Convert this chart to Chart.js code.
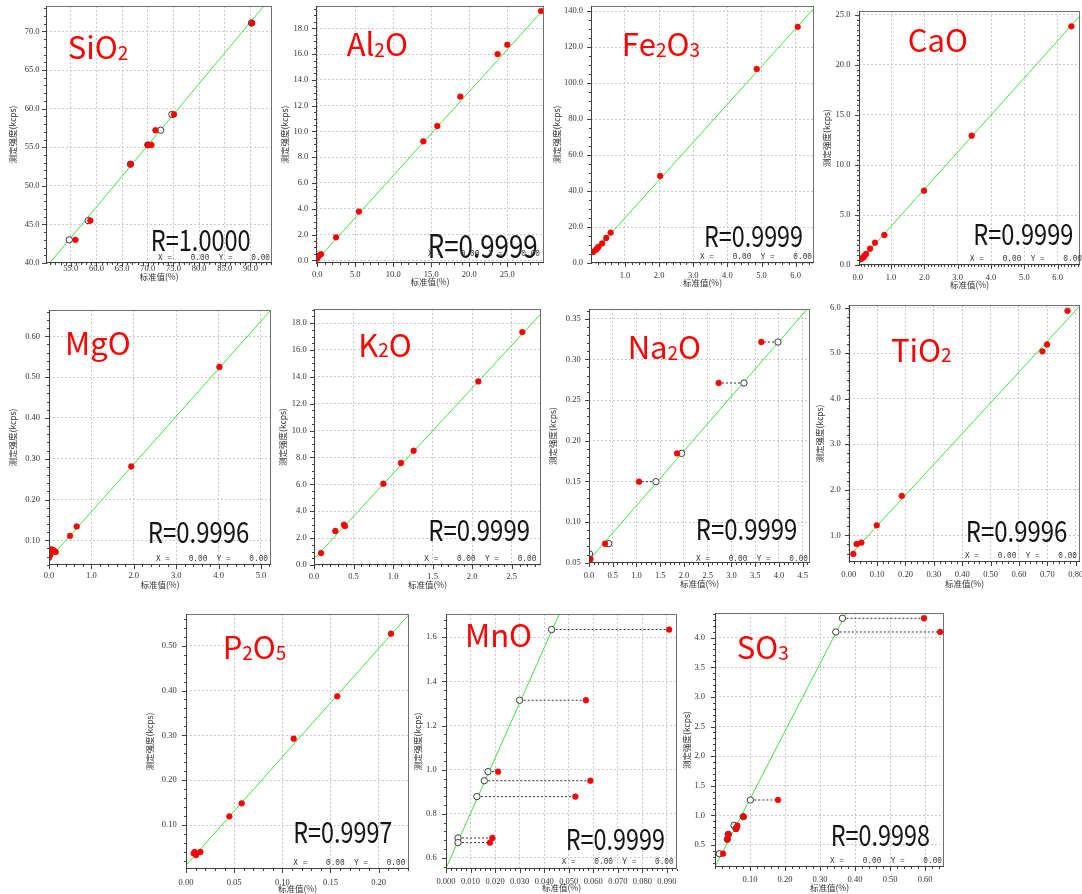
<!DOCTYPE html>
<html><head><meta charset="utf-8">
<script src="https://cdn.jsdelivr.net/npm/chart.js@4.4.0/dist/chart.umd.min.js"></script>
<style>
html,body{margin:0;padding:0;background:#fff;}
body{width:1082px;height:894px;position:relative;overflow:hidden;}
canvas{position:absolute;}
</style></head><body>
<script>
// ---------------- DATA ----------------
const xTitle = '标准值(%)';
const yTitle = '测定强度(kcps)';
const xyText = 'X =    0.00  Y =    0.00';

// SiO2
const sio2XTicks = ["55.0","60.0","65.0","70.0","75.0","80.0","85.0","90.0"];
const sio2YTicks = ["40.0","45.0","50.0","55.0","60.0","65.0","70.0"];
const sio2Std  = [[54.7,43.0],[58.4,45.5],[66.6,52.8],[70.0,55.3],[72.5,57.2],[74.7,59.25],[90.2,71.1]];
const sio2Meas = [[55.9,43.0],[58.8,45.5],[66.7,52.8],[70.0,55.3],[70.7,55.3],[71.5,57.2],[75.1,59.25],[90.3,71.1]];
const sio2Fit  = [[50.9,40.0],[92.6,73.3]];
const sio2Links = [];

// Al2O
const al2oXTicks = ["0.0","5.0","10.0","15.0","20.0","25.0"];
const al2oYTicks = ["0.0","2.0","4.0","6.0","8.0","10.0","12.0","14.0","16.0","18.0"];
const al2oStd  = [];
const al2oMeas = [[0.0,0.13],[0.18,0.34],[0.48,0.47],[2.46,1.78],[5.48,3.78],[13.95,9.23],[15.79,10.42],[18.82,12.70],[23.73,16.0],[25.0,16.73],[29.43,19.34]];
const al2oFit  = [[-0.5,-0.276],[30.5,19.94]];
const al2oLinks = [];

// Fe2O3
const fe2o3XTicks = ["1.0","2.0","3.0","4.0","5.0","6.0"];
const fe2o3YTicks = ["0.0","20.0","40.0","60.0","80.0","100.0","120.0","140.0"];
const fe2o3Std  = [];
const fe2o3Meas = [[0.062,6.1],[0.14,7.2],[0.18,8.0],[0.22,8.9],[0.33,10.9],[0.45,13.9],[0.58,16.9],[2.03,48.4],[4.86,107.9],[6.06,131.3]];
const fe2o3Fit  = [[-0.1,1.9],[6.7,145.1]];
const fe2o3Links = [];

// CaO
const caoXTicks = ["0.0","1.0","2.0","3.0","4.0","5.0","6.0"];
const caoYTicks = ["0.0","5.0","10.0","15.0","20.0","25.0"];
const caoStd  = [];
const caoMeas = [[0.07,0.57],[0.13,0.67],[0.17,0.77],[0.2,0.9],[0.25,1.1],[0.37,1.63],[0.52,2.23],[0.8,3.0],[1.99,7.43],[3.42,12.93],[6.41,23.87]];
const caoFit  = [[-0.1,-0.22],[6.9,25.77]];
const caoLinks = [];

// MgO
const mgoXTicks = ["0.0","1.0","2.0","3.0","4.0","5.0"];
const mgoYTicks = ["0.10","0.20","0.30","0.40","0.50","0.60"];
const mgoStd  = [];
const mgoMeas = [[0.0,0.0575],[0.03,0.064],[0.055,0.078],[0.11,0.0755],[0.157,0.0714],[0.495,0.111],[0.653,0.134],[1.94,0.281],[4.02,0.525]];
const mgoFit  = [[-0.1,0.0417],[5.4,0.684]];
const mgoLinks = [];

// K2O
const k2oXTicks = ["0.0","0.5","1.0","1.5","2.0","2.5"];
const k2oYTicks = ["0.0","2.0","4.0","6.0","8.0","10.0","12.0","14.0","16.0","18.0"];
const k2oStd  = [];
const k2oMeas = [[0.089,0.89],[0.27,2.53],[0.379,3.0],[0.392,2.9],[0.877,6.05],[1.10,7.59],[1.26,8.5],[2.078,13.66],[2.635,17.33]];
const k2oFit  = [[-0.1,-0.19],[3.0,19.52]];
const k2oLinks = [];

// Na2O
const na2oXTicks = ["0.0","0.5","1.0","1.5","2.0","2.5","3.0","3.5","4.0","4.5"];
const na2oYTicks = ["0.05","0.10","0.15","0.20","0.25","0.30","0.35"];
const na2oStd  = [[0.012,0.0607],[0.0,0.0545],[0.414,0.0734],[1.41,0.1496],[1.95,0.1844],[3.263,0.2709],[3.979,0.3213]];
const na2oMeas = [[0.03,0.0545],[0.015,0.0533],[0.337,0.0734],[1.053,0.1496],[1.853,0.1844],[2.73,0.2709],[3.628,0.3213]];
const na2oFit  = [[-0.1,0.0463],[4.8,0.3756]];
const na2oLinks = [2,3,4,5,6];

// TiO2
const tio2XTicks = ["0.00","0.10","0.20","0.30","0.40","0.50","0.60","0.70","0.80"];
const tio2YTicks = ["1.0","2.0","3.0","4.0","5.0","6.0"];
const tio2Std  = [];
const tio2Meas = [[0.0164,0.59],[0.028,0.81],[0.0446,0.84],[0.0987,1.22],[0.187,1.864],[0.6825,5.04],[0.699,5.19],[0.771,5.93]];
const tio2Fit  = [[-0.05,0.192],[0.85,6.276]];
const tio2Links = [];

// P2O5
const p2o5XTicks = ["0.00","0.05","0.10","0.15","0.20"];
const p2o5YTicks = ["0.10","0.20","0.30","0.40","0.50"];
const p2o5Std  = [];
const p2o5Meas = [[0.008,0.0368],[0.009,0.0398],[0.0104,0.033],[0.0149,0.0398],[0.045,0.1193],[0.0578,0.1483],[0.1118,0.2926],[0.157,0.387],[0.2128,0.5268]];
const p2o5Fit  = [[-0.01,-0.0142],[0.24,0.5903]];
const p2o5Links = [];

// MnO
const mnoXTicks = ["0.000","0.010","0.020","0.030","0.040","0.050","0.060","0.070","0.080","0.090"];
const mnoYTicks = ["0.6","0.8","1.0","1.2","1.4","1.6"];
const mnoStd  = [[0.0049,0.6906],[0.0049,0.6695],[0.0126,0.878],[0.0156,0.950],[0.0171,0.991],[0.030,1.3145],[0.043,1.635]];
const mnoMeas = [[0.0189,0.6906],[0.0179,0.6695],[0.0527,0.878],[0.0588,0.950],[0.0212,0.991],[0.057,1.3145],[0.0909,1.635]];
const mnoFit  = [[-0.002,0.503],[0.05,1.802]];
const mnoLinks = [0,1,2,3,4,5,6];

// SO3
const so3XTicks = ["0.10","0.20","0.30","0.40","0.50","0.60"];
const so3YTicks = ["0.5","1.0","1.5","2.0","2.5","3.0","3.5","4.0"];
const so3Std  = [[0.0124,0.354],[0.0543,0.832],[0.101,1.26],[0.345,4.096],[0.364,4.327],[0.0352,0.596],[0.038,0.68],[0.06,0.776],[0.081,0.978]];
const so3Meas = [[0.0229,0.354],[0.0638,0.826],[0.18,1.26],[0.643,4.096],[0.597,4.327],[0.0352,0.596],[0.038,0.68],[0.06,0.776],[0.081,0.978]];
const so3Fit  = [[-0.01,0.0197],[0.39,4.592]];
const so3Links = [2,3,4];

const names = ["SiO_2","Al_2O","Fe_2O_3","CaO","MgO","K_2O","Na_2O","TiO_2","P_2O_5","MnO","SO_3"];
const rValues = ["R=1.0000","R=0.9999","R=0.9999","R=0.9999","R=0.9996","R=0.9999","R=0.9999","R=0.9996","R=0.9997","R=0.9999","R=0.9998"];

const series = [
  [sio2Meas, sio2Std, sio2Fit, sio2Links, sio2XTicks, sio2YTicks],
  [al2oMeas, al2oStd, al2oFit, al2oLinks, al2oXTicks, al2oYTicks],
  [fe2o3Meas, fe2o3Std, fe2o3Fit, fe2o3Links, fe2o3XTicks, fe2o3YTicks],
  [caoMeas, caoStd, caoFit, caoLinks, caoXTicks, caoYTicks],
  [mgoMeas, mgoStd, mgoFit, mgoLinks, mgoXTicks, mgoYTicks],
  [k2oMeas, k2oStd, k2oFit, k2oLinks, k2oXTicks, k2oYTicks],
  [na2oMeas, na2oStd, na2oFit, na2oLinks, na2oXTicks, na2oYTicks],
  [tio2Meas, tio2Std, tio2Fit, tio2Links, tio2XTicks, tio2YTicks],
  [p2o5Meas, p2o5Std, p2o5Fit, p2o5Links, p2o5XTicks, p2o5YTicks],
  [mnoMeas, mnoStd, mnoFit, mnoLinks, mnoXTicks, mnoYTicks],
  [so3Meas, so3Std, so3Fit, so3Links, so3XTicks, so3YTicks]
];

// ---------------- LAYOUT (page px) ----------------
const layout = [
 {L:46,T:6,R:272,B:263,d:32.4,e:13.7,c:5.6,gap:6.4,xr:[50.17,94.2],yr:[40,73.3],nx:67.7,ny:59.3,rx:150.7,ry:250.7,rw:100,rs:29,qx:158,qy:260.3,mx:1,my:1},
 {L:316,T:6,R:544,B:263,d:31,e:18.7,c:12,gap:7.7,xr:[-0.17,29.83],yr:[-0.21,19.73],nx:346.7,ny:56,rx:427.7,ry:258.3,rw:110,rs:32,qx:428,qy:256.3,mx:1,my:0.5},
 {L:591,T:6,R:814,B:263,d:34.3,e:20.3,c:13,gap:8,xr:[0.004,6.538],yr:[0,142.9],nx:621.7,ny:56,rx:704,ry:246.7,rw:99,rs:29,qx:700,qy:258.7,mx:0.2,my:5},
 {L:859,T:11,R:1080,B:265,d:32,e:20,c:12.7,gap:8.6,xr:[0.039,6.67],yr:[0,25.4],nx:907.7,ny:51.7,rx:973.3,ry:245,rw:100,rs:29,qx:970,qy:260.7,mx:0.1,my:0.5},
 {L:49,T:310,R:271,B:565,d:36.3,e:20,c:11,gap:9,xr:[0,5.236],yr:[0.0395,0.6645],nx:65,ny:355,rx:147.7,ry:543.3,rw:101.6,rs:29,qx:156,qy:560.7,mx:0.2,my:0.02},
 {L:314,T:309,R:541,B:565,d:30.7,e:20,c:11.7,gap:7.3,xr:[0,2.871],yr:[0,19.05],nx:358.3,ny:356.7,rx:428.3,ry:540.7,rw:101.7,rs:29,qx:424.3,qy:560.7,mx:0.1,my:0.5},
 {L:589,T:309,R:810,B:563,d:36,e:21,c:13,gap:8.3,xr:[0,4.653],yr:[0.0496,0.3619],nx:627.7,ny:359,rx:695.7,ry:540,rw:101.6,rs:29,qx:696,qy:560.7,mx:0.1,my:0.01},
 {L:849,T:305,R:1080,B:562,d:29,e:22,c:13,gap:8.3,xr:[0.001,0.815],yr:[0.4136,6.058],nx:891,ny:361.7,rx:965.7,ry:542,rw:101.6,rs:29,qx:965,qy:558,mx:0.02,my:0.2},
 {L:186,T:614,R:409,B:869,d:36,e:20,c:13.4,gap:9.3,xr:[0,0.2315],yr:[0.00185,0.5707],nx:222.7,ny:659.3,rx:293.3,ry:842.7,rw:99,rs:29,qx:293.3,qy:865.3,mx:0.01,my:0.02},
 {L:446,T:614,R:677,B:869,d:28,e:19.3,c:12.7,gap:9.3,xr:[0,0.0941],yr:[0.55,1.7054],nx:465,ny:647.3,rx:565.7,ry:850,rw:99.3,rs:29,qx:561.7,qy:863.7,mx:0.002,my:0.04},
 {L:715,T:613,R:944,B:867,d:28,e:21,c:13,gap:10,xr:[0,0.654],yr:[0.1286,4.416],nx:736.7,ny:659.3,rx:830.7,ry:846,rw:99.3,rs:29,qx:830,qy:863,mx:0.02,my:0.1}
];

const CJK = "'Noto Sans CJK SC', 'Noto Sans', sans-serif";
const tickFont = {family:"'Liberation Serif', serif", size:8.5};
const titleFont = {family:CJK, size:8.5};

function pts(a){ return a.map(p => ({x:p[0], y:p[1]})); }

function drawAxisTicks(ctx, scale, horiz, step, majors, a){
  const min = scale.min, max = scale.max;
  const k0 = Math.ceil(min/step - 1e-6);
  ctx.beginPath();
  for (let k = k0; k*step <= max + 1e-9; k++){
    const v = k*step;
    const isMajor = majors.some(m => Math.abs(m - v) < step*0.01);
    const len = isMajor ? 4 : 2;
    const px = Math.round(scale.getPixelForValue(v)) + 0.5;
    if (horiz){ ctx.moveTo(px, a.bottom); ctx.lineTo(px, a.bottom + len); }
    else { ctx.moveTo(a.left, px); ctx.lineTo(a.left - len, px); }
  }
  ctx.stroke();
}

function makeChart(idx){
  const [meas, std, fit, links, xt, yt] = series[idx];
  const g = layout[idx];
  const yw = Math.round(g.d + 5.1), xh = Math.round(g.e + 5.1), tp = 6, rp = 6;
  const W = yw + (g.R - g.L) + rp, H = tp + (g.B - g.T) + xh;
  const ox = g.L - yw, oy = g.T - tp;
  const cv = document.createElement('canvas');
  cv.width = W; cv.height = H;
  cv.style.left = ox + 'px'; cv.style.top = oy + 'px';
  cv.style.width = W + 'px'; cv.style.height = H + 'px';
  document.body.appendChild(cv);

  const xVals = xt.map(parseFloat), yVals = yt.map(parseFloat);
  const datasets = [];
  datasets.push({data:pts(fit), showLine:true, borderColor:'#3fe63f', borderWidth:1, pointRadius:0, order:5});
  links.forEach(i => datasets.push({data:pts([std[i], meas[i]]), showLine:true, borderColor:'#333', borderWidth:1, borderDash:[2,2], pointRadius:0, order:4}));
  datasets.push({data:pts(std), pointRadius:3.2, pointBackgroundColor:'#ffffff', pointBorderColor:'#3a3a3a', pointBorderWidth:1, order:3});
  datasets.push({data:pts(meas), pointRadius:2.9, pointBackgroundColor:'#ff0000', pointBorderColor:'#e40000', pointBorderWidth:0.5, order:2});

  const decor = {
    id:'decor' + idx,
    afterDraw(chart){
      const ctx = chart.ctx, a = chart.chartArea;
      ctx.save();
      ctx.lineWidth = 1;
      ctx.strokeStyle = '#707070';
      ctx.beginPath();
      ctx.moveTo(a.left, a.top + 0.5); ctx.lineTo(a.right, a.top + 0.5);
      ctx.moveTo(a.right - 0.5, a.top); ctx.lineTo(a.right - 0.5, a.bottom);
      ctx.stroke();
      ctx.strokeStyle = '#404040';
      ctx.beginPath();
      ctx.moveTo(a.left + 0.5, a.top); ctx.lineTo(a.left + 0.5, a.bottom + 1);
      ctx.moveTo(a.left, a.bottom - 0.5); ctx.lineTo(a.right, a.bottom - 0.5);
      ctx.stroke();
      drawAxisTicks(ctx, chart.scales.x, true, g.mx, xVals, a);
      drawAxisTicks(ctx, chart.scales.y, false, g.my, yVals, a);
      ctx.fillStyle = '#ff0000';
      ctx.textBaseline = 'alphabetic';
      let x = g.nx - ox; const y = g.ny - oy;
      const nm = names[idx];
      for (let i = 0; i < nm.length; i++){
        let ch = nm[i], sub = false;
        if (ch === '_'){ sub = true; i++; ch = nm[i]; }
        ctx.font = (sub ? '19px ' : '31px ') + CJK;
        ctx.fillText(ch, x, y + (sub ? 0.5 : 0));
        x += ctx.measureText(ch).width;
      }
      ctx.fillStyle = '#151515';
      ctx.font = g.rs + 'px ' + CJK;
      ctx.fillText(rValues[idx], g.rx - ox, g.ry - oy, g.rw);
      ctx.fillStyle = '#333';
      ctx.font = "9px 'Liberation Mono', monospace";
      ctx.fillText(xyText, g.qx - ox, g.qy - oy, 112);
      ctx.restore();
    }
  };

  new Chart(cv, {
    type:'scatter',
    data:{datasets},
    plugins:[decor],
    options:{
      responsive:false, animation:false, devicePixelRatio:1, events:[],
      layout:{padding:{top:tp, right:rp, left:0, bottom:0}},
      plugins:{legend:{display:false}, tooltip:{enabled:false}},
      scales:{
        x:{type:'linear', position:'bottom', min:g.xr[0], max:g.xr[1],
           afterBuildTicks: s => { s.ticks = xVals.map(v => ({value:v})); },
           afterFit: s => { s.height = xh; s.paddingLeft = 0; s.paddingRight = 0; },
           ticks:{autoSkip:false, maxRotation:0, minRotation:0, padding:g.c - 5.1, font:tickFont, color:'#333', callback:(v,i) => xt[i]},
           grid:{color:'#cacaca', lineWidth:1, drawTicks:false},
           border:{display:false, dash:[2,2]},
           title:{display:true, text:xTitle, font:titleFont, color:'#333', padding:0}
        },
        y:{type:'linear', position:'left', min:g.yr[0], max:g.yr[1],
           afterBuildTicks: s => { s.ticks = yVals.map(v => ({value:v})); },
           afterFit: s => { s.width = yw; s.paddingTop = 0; s.paddingBottom = 0; },
           ticks:{autoSkip:false, padding:g.gap, font:tickFont, color:'#333', callback:(v,i) => yt[i]},
           grid:{color:'#cacaca', lineWidth:1, drawTicks:false},
           border:{display:false, dash:[2,2]},
           title:{display:true, text:yTitle, font:titleFont, color:'#333', padding:0}
        }
      }
    }
  });
}

for (let i = 0; i < series.length; i++) makeChart(i);
</script>
</body></html>
